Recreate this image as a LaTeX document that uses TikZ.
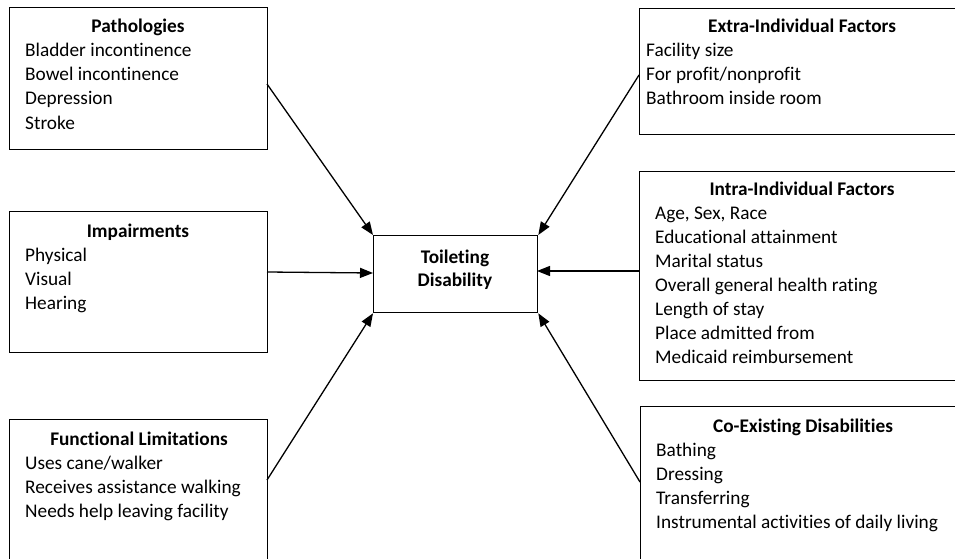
\documentclass[tikz,border=0pt]{standalone}
\usepackage{fontspec}
\setmainfont[Ligatures={NoCommon,NoRare,NoContextual},RawFeature={-liga;-clig;-dlig}]{Carlito}
\usetikzlibrary{arrows.meta}
\begin{document}
\begin{tikzpicture}[x=1pt,y=-1pt,
  boxst/.style={draw, line width=1.3pt, inner sep=0pt, anchor=north west},
  titlest/.style={font=\fontsize{19.3}{24}\selectfont\bfseries, anchor=base, inner sep=0pt},
  itemst/.style={font=\fontsize{19.3}{24}\selectfont, anchor=base west, inner sep=0pt},
  arr/.style={line width=1.3pt, -{Triangle[length=13pt,width=10pt]}}]
\useasboundingbox (0,0) rectangle (955,559);
\clip (0,0) rectangle (955,559);
\newcommand\itemlist[4]{%
  \foreach \t [count=\i] in {#4}
    \node[itemst] (#3\i) at (#1,{#2+24*(\i-1)}) {\t};}
% boxes
\node[boxst, minimum width=258pt, minimum height=142pt] (patho) at (9,7) {};
\node[boxst, minimum width=258pt, minimum height=141pt] (imp) at (9,211) {};
\node[boxst, minimum width=258pt, minimum height=170pt] (func) at (9,419) {};
\node[boxst, minimum width=164pt, minimum height=77pt] (center) at (373,235) {};
\node[boxst, minimum width=327pt, minimum height=126pt] (extra) at (639,8) {};
\node[boxst, minimum width=327pt, minimum height=209pt] (intra) at (639,171) {};
\node[boxst, minimum width=326pt, minimum height=180pt] (coex) at (640,406) {};
% titles
\node[titlest] (tpatho) at (138,33) {Pathologies};
\node[titlest] (timp) at (138,237) {Impairments};
\node[titlest] (tfunc) at (139,445) {Functional Limitations};
\node[titlest] (textra) at (802,33) {Extra-Individual Factors};
\node[titlest] (tintra) at (802,195) {Intra-Individual Factors};
\node[titlest] (tcoex) at (803,432) {Co-Existing Disabilities};
\node[titlest] (tcen1) at (455,263) {Toileting};
\node[titlest] (tcen2) at (455,286) {Disability};
% items
\itemlist{25}{57}{pi}{Bladder incontinence, Bowel incontinence, Depression, Stroke}
\itemlist{25}{261}{ii}{Physical, Visual, Hearing}
\itemlist{25}{469}{fi}{Uses cane/walker, Receives assistance walking, Needs help leaving facility}
\itemlist{646}{57}{ei}{Facility size, For profit/nonprofit, Bathroom inside room}
\itemlist{655}{219}{ni}{{Age, Sex, Race}, Educational attainment, Marital status, Overall general health rating, Length of stay, Place admitted from, Medicaid reimbursement}
\itemlist{656}{456}{ci}{Bathing, Dressing, Transferring, Instrumental activities of daily living}
% connector ends
\coordinate (pathoR) at (267,84);
\coordinate (impR) at (267,272);
\coordinate (funcR) at (267,480);
\coordinate (extraL) at (639,75);
\coordinate (intraL) at (639,271);
\coordinate (coexL) at (640,482);
\coordinate (cenL) at (373,273);
\coordinate (cenR) at (537,271);
% arrows
\draw[arr] (pathoR) -- (center.north west);
\draw[arr] (impR) -- (cenL);
\draw[arr] (funcR) -- (center.south west);
\draw[arr] (extraL) -- (center.north east);
\draw[arr] (intraL) -- (cenR);
\draw[arr] (coexL) -- (center.south east);
\end{tikzpicture}
\end{document}
